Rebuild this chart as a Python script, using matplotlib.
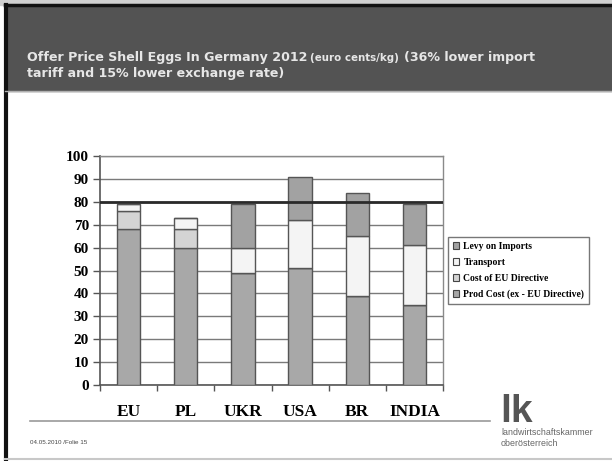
import numpy as np
import matplotlib
matplotlib.use('Agg')
import matplotlib.pyplot as plt
from matplotlib.patches import Rectangle, Patch
from matplotlib.lines import Line2D

categories = ['EU', 'PL', 'UKR', 'USA', 'BR', 'INDIA']
prod_cost = [68, 60, 49, 51, 39, 35]
eu_directive = [8, 8, 0, 0, 0, 0]
transport = [3, 5, 11, 21, 26, 26]
levy = [0, 0, 19, 19, 19, 18]
eu_price = 80

series_names = ['Levy on Imports', 'Transport', 'Cost of EU Directive', 'Prod Cost (ex - EU Directive)']
series_colors = ['#a2a2a2', '#f4f4f4', '#d4d4d4', '#a8a8a8']

W, H = 612, 461
fig = plt.figure(figsize=(W / 100, H / 100), dpi=100)
fig.patch.set_facecolor('white')

def fx(px):
    return px / W

def fy(py):
    return 1 - py / H

# slide frame and header
fig.add_artist(Rectangle((0, fy(5)), 1, 5 / H, transform=fig.transFigure, color='#d0d0d0', zorder=0))
fig.add_artist(Rectangle((fx(5), fy(91)), 1, 86 / H, transform=fig.transFigure, color='#535353', zorder=1))
fig.add_artist(Line2D([fx(5), 1], [fy(5.5), fy(5.5)], transform=fig.transFigure, color='#111111', lw=2.5, zorder=2))
fig.add_artist(Line2D([fx(5.5), fx(5.5)], [0, fy(5)], transform=fig.transFigure, color='#111111', lw=3, zorder=2))
fig.add_artist(Line2D([fx(5), 1], [fy(91.5), fy(91.5)], transform=fig.transFigure, color='#b0b0b0', lw=1, zorder=2))
fig.add_artist(Line2D([fx(5), 1], [fy(459), fy(459)], transform=fig.transFigure, color='#c8c8c8', lw=1.5, zorder=2))

# title, mixed sizes on the first line
tfont = dict(family='DejaVu Sans', weight='bold', color='#e6e6e6')
fig.canvas.draw()
r = fig.canvas.get_renderer()
t1 = fig.text(fx(27), fy(61), 'Offer Price Shell Eggs In Germany 2012', fontsize=9.1, **tfont)
xa = t1.get_window_extent(r).x1 + 3
t2 = fig.text(xa / W, fy(61), '(euro cents/kg)', fontsize=7.4, **tfont)
xb = t2.get_window_extent(r).x1 + 5
fig.text(xb / W, fy(61), '(36% lower import', fontsize=9.1, **tfont)
fig.text(fx(27), fy(77), 'tariff and 15% lower exchange rate)', fontsize=9.1, **tfont)

# chart
ax = fig.add_axes([fx(100), fy(385), fx(443) - fx(100), (385 - 156) / H])
x = np.arange(len(categories))
width = 0.41
edge = '#555555'
bottom = np.zeros(len(categories))
stack = [prod_cost, eu_directive, transport, levy]
stack_colors = series_colors[::-1]
for vals, col in zip(stack, stack_colors):
    vals = np.array(vals, dtype=float)
    ax.bar(x, vals, width, bottom=bottom, color=col, edgecolor=edge, linewidth=1.0, zorder=3)
    bottom += vals

ax.axhline(eu_price, color='#2a2a2a', lw=2.0, zorder=5)

ax.set_xlim(-0.5, len(categories) - 0.5)
ax.set_ylim(0, 100)
ax.set_yticks(np.arange(0, 101, 10))
ax.yaxis.grid(True, color='#7a7a7a', lw=1.0, zorder=0)
ax.set_axisbelow(True)

ax.set_xticks(x)
ax.set_xticklabels(categories, fontsize=12.5, fontweight='bold', family='Liberation Serif')
ax.tick_params(axis='x', length=0, pad=14)
ax.set_xticks(np.arange(-0.5, len(categories), 1), minor=True)
ax.tick_params(axis='x', which='minor', length=4, color='#555555', width=1)
ax.tick_params(axis='y', length=5, color='#555555', width=1, labelsize=11, pad=3)
for lab in ax.get_yticklabels():
    lab.set_fontweight('bold')
    lab.set_family('Liberation Serif')

for side in ['left', 'bottom']:
    ax.spines[side].set_color('#555555')
    ax.spines[side].set_linewidth(1.2)
for side in ['top', 'right']:
    ax.spines[side].set_color('#8a8a8a')
    ax.spines[side].set_linewidth(1.0)

handles = [Patch(facecolor=c, edgecolor='#444444', linewidth=0.8) for c in series_colors]
leg = fig.legend(handles, series_names, loc='upper left', bbox_to_anchor=(fx(448), fy(237)),
                 bbox_transform=fig.transFigure, frameon=True, fancybox=False,
                 prop=dict(family='Liberation Serif', weight='bold', size=6.9),
                 handlelength=0.7, handleheight=0.7, handletextpad=0.4,
                 labelspacing=0.72, borderpad=0.5, borderaxespad=0)
leg.get_frame().set_edgecolor('#555555')
leg.get_frame().set_linewidth(1.0)

# footer
fig.add_artist(Line2D([fx(30), fx(490)], [fy(421), fy(421)], transform=fig.transFigure, color='#9a9a9a', lw=1.2))
fig.text(fx(30), fy(444), '04.05.2010 /Folie 15', fontsize=4.5, color='#444444', family='Liberation Sans')
fig.text(fx(500), fy(422), 'lk', fontsize=28, fontweight='bold', color='#555555', family='Liberation Sans')
fig.text(fx(501), fy(435), 'landwirtschaftskammer', fontsize=6.4, color='#666666', family='Liberation Sans')
fig.text(fx(501), fy(446), 'oberösterreich', fontsize=6.4, color='#666666', family='Liberation Sans')

fig.savefig('out.png', dpi=100)
